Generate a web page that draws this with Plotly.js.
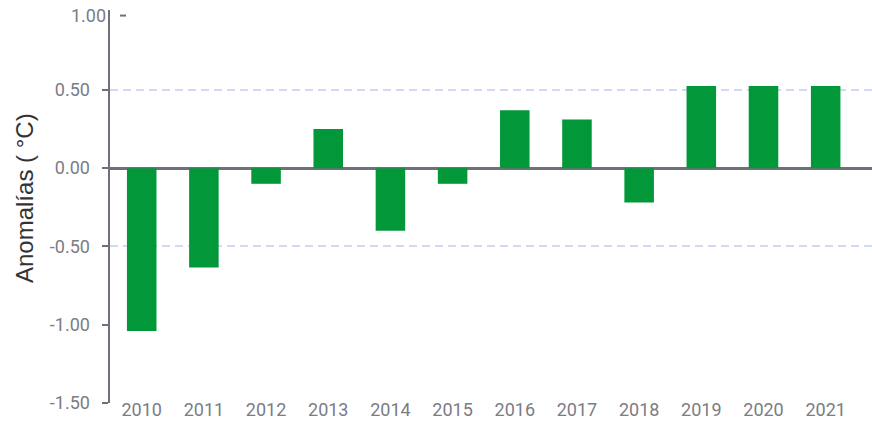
<!DOCTYPE html>
<html>
<head>
<meta charset="utf-8">
<script src="https://cdn.plot.ly/plotly-3.0.1.min.js"></script>
<style>html,body{margin:0;padding:0;background:#fff;}#chart{width:872px;height:421px;}</style>
</head>
<body>
<div id="chart"></div>
<script>
const years = ['2010','2011','2012','2013','2014','2015','2016','2017','2018','2019','2020','2021'];
const anomalies = [-1.04, -0.635, -0.10, 0.25, -0.40, -0.10, 0.37, 0.31, -0.22, 0.525, 0.525, 0.525];
const yTickVals = [-1.5, -1.0, -0.5, 0.0, 0.5];
const yTickText = ['-1.50', '-1.00', '-0.50', '0.00', '0.50'];
const gridVals = [-0.5, 0.5];
const topLabel = '1.00';
const topValue = 1.0;
const yTitle = 'Anomalías ( °C)';

const axisColor = '#6f7079';
const tickFont = {family: 'Roboto, sans-serif', size: 18, color: '#7b7c85'};

const trace = {
  type: 'bar',
  x: years,
  y: anomalies,
  width: 0.475,
  marker: {color: '#02983a', line: {width: 0}},
  hoverinfo: 'x+y'
};

const layout = {
  width: 872, height: 421,
  margin: {l: 110, r: 0, t: 10, b: 18, pad: 0},
  paper_bgcolor: '#fff', plot_bgcolor: '#fff',
  showlegend: false,
  xaxis: {
    type: 'category',
    range: [-0.51, 11.745],
    showgrid: false, showline: false, zeroline: false,
    ticks: '', tickfont: tickFont, automargin: false,
    ticklabelstandoff: -6
  },
  yaxis: {
    range: [-1.5, 1.01],
    tickvals: yTickVals, ticktext: yTickText,
    tickfont: tickFont,
    ticks: 'outside', ticklen: 6, tickwidth: 2, tickcolor: axisColor,
    ticklabelstandoff: 8,
    showline: true, linecolor: axisColor, linewidth: 2.5,
    showgrid: false,
    zeroline: true, zerolinecolor: axisColor, zerolinewidth: 3,
    automargin: false
  },
  yaxis2: {
    overlaying: 'y', range: [-1.5, 1.01],
    tickvals: gridVals, showticklabels: false, ticks: '',
    showgrid: true, gridcolor: '#d2d9f4', gridwidth: 2, griddash: '8px,5px',
    zeroline: false, showline: false
  },
  shapes: [
    {type: 'line', xref: 'paper', yref: 'y', xsizemode: 'pixel', ysizemode: 'pixel',
     xanchor: 0, yanchor: topValue, x0: 10, x1: 16, y0: -4, y1: -4,
     line: {color: axisColor, width: 2}}
  ],
  annotations: [
    {xref: 'paper', yref: 'y', x: 0, y: topValue, text: topLabel, showarrow: false,
     xanchor: 'right', yanchor: 'middle', xshift: -2, yshift: -4, font: tickFont},
    {xref: 'paper', yref: 'paper', x: 0, y: 0.5216, text: yTitle, showarrow: false,
     textangle: -90, xanchor: 'center', yanchor: 'middle', xshift: -86,
     font: {family: 'Liberation Sans, Arial, sans-serif', size: 24, color: '#333'}}
  ]
};

const traces = [trace, {type: 'scatter', x: [], y: [], yaxis: 'y2', hoverinfo: 'skip'}];
Plotly.newPlot('chart', traces, layout, {displayModeBar: false, staticPlot: true});
</script>
</body>
</html>
